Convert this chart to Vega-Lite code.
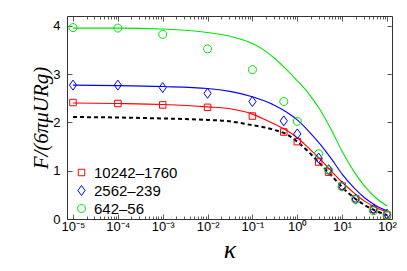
{
  "$schema": "https://vega.github.io/schema/vega-lite/v6.json",
  "width": 325,
  "height": 203,
  "autosize": {"type": "none"},
  "padding": {"left": 67, "top": 16, "right": 15, "bottom": 52},
  "background": "white",
  "config": {
    "view": {"stroke": "#333", "strokeWidth": 1},
    "axis": {"grid": false, "domain": false, "tickColor": "#333", "tickWidth": 0.8, "labelFont": "Liberation Sans", "labelFontSize": 13, "labelColor": "#000", "titleColor": "#000"},
    "legend": {"labelFont": "Liberation Sans", "labelFontSize": 15, "labelColor": "#000"}
  },
  "datasets": {
    "curves": [
      {"k": 1e-5, "F": 3.95, "s": "642–56"}, {"k": 1e-4, "F": 3.95, "s": "642–56"}, {"k": 1e-3, "F": 3.93, "s": "642–56"}, {"k": 0.01, "F": 3.86, "s": "642–56"}, {"k": 0.0316, "F": 3.78, "s": "642–56"}, {"k": 0.1, "F": 3.63, "s": "642–56"}, {"k": 0.178, "F": 3.5, "s": "642–56"}, {"k": 0.316, "F": 3.32, "s": "642–56"}, {"k": 0.562, "F": 3.1, "s": "642–56"}, {"k": 1, "F": 2.86, "s": "642–56"}, {"k": 1.78, "F": 2.6, "s": "642–56"}, {"k": 3.16, "F": 2.27, "s": "642–56"}, {"k": 5.62, "F": 1.86, "s": "642–56"}, {"k": 10, "F": 1.4, "s": "642–56"}, {"k": 17.8, "F": 1.0, "s": "642–56"}, {"k": 31.6, "F": 0.68, "s": "642–56"}, {"k": 56.2, "F": 0.44, "s": "642–56"}, {"k": 100, "F": 0.27, "s": "642–56"},
      {"k": 1e-5, "F": 2.77, "s": "2562–239"}, {"k": 1e-4, "F": 2.76, "s": "2562–239"}, {"k": 1e-3, "F": 2.74, "s": "2562–239"}, {"k": 0.01, "F": 2.7, "s": "2562–239"}, {"k": 0.0316, "F": 2.64, "s": "2562–239"}, {"k": 0.1, "F": 2.53, "s": "2562–239"}, {"k": 0.178, "F": 2.45, "s": "2562–239"}, {"k": 0.316, "F": 2.35, "s": "2562–239"}, {"k": 0.562, "F": 2.22, "s": "2562–239"}, {"k": 1, "F": 2.05, "s": "2562–239"}, {"k": 1.78, "F": 1.82, "s": "2562–239"}, {"k": 3.16, "F": 1.56, "s": "2562–239"}, {"k": 5.62, "F": 1.26, "s": "2562–239"}, {"k": 10, "F": 0.93, "s": "2562–239"}, {"k": 17.8, "F": 0.66, "s": "2562–239"}, {"k": 31.6, "F": 0.44, "s": "2562–239"}, {"k": 56.2, "F": 0.28, "s": "2562–239"}, {"k": 100, "F": 0.17, "s": "2562–239"},
      {"k": 1e-5, "F": 2.4, "s": "10242–1760"}, {"k": 1e-4, "F": 2.39, "s": "10242–1760"}, {"k": 1e-3, "F": 2.37, "s": "10242–1760"}, {"k": 0.01, "F": 2.32, "s": "10242–1760"}, {"k": 0.0316, "F": 2.28, "s": "10242–1760"}, {"k": 0.1, "F": 2.17, "s": "10242–1760"}, {"k": 0.178, "F": 2.07, "s": "10242–1760"}, {"k": 0.316, "F": 1.96, "s": "10242–1760"}, {"k": 0.562, "F": 1.84, "s": "10242–1760"}, {"k": 1, "F": 1.68, "s": "10242–1760"}, {"k": 1.78, "F": 1.47, "s": "10242–1760"}, {"k": 3.16, "F": 1.25, "s": "10242–1760"}, {"k": 5.62, "F": 1.0, "s": "10242–1760"}, {"k": 10, "F": 0.76, "s": "10242–1760"}, {"k": 17.8, "F": 0.55, "s": "10242–1760"}, {"k": 31.6, "F": 0.37, "s": "10242–1760"}, {"k": 56.2, "F": 0.24, "s": "10242–1760"}, {"k": 100, "F": 0.15, "s": "10242–1760"},
      {"k": 1e-5, "F": 2.11, "s": "theory"}, {"k": 1e-4, "F": 2.1, "s": "theory"}, {"k": 1e-3, "F": 2.08, "s": "theory"}, {"k": 0.01, "F": 2.05, "s": "theory"}, {"k": 0.0316, "F": 2.02, "s": "theory"}, {"k": 0.1, "F": 1.94, "s": "theory"}, {"k": 0.178, "F": 1.9, "s": "theory"}, {"k": 0.316, "F": 1.84, "s": "theory"}, {"k": 0.562, "F": 1.76, "s": "theory"}, {"k": 1, "F": 1.6, "s": "theory"}, {"k": 1.78, "F": 1.39, "s": "theory"}, {"k": 3.16, "F": 1.15, "s": "theory"}, {"k": 5.62, "F": 0.91, "s": "theory"}, {"k": 10, "F": 0.66, "s": "theory"}, {"k": 17.8, "F": 0.45, "s": "theory"}, {"k": 31.6, "F": 0.29, "s": "theory"}, {"k": 56.2, "F": 0.17, "s": "theory"}, {"k": 100, "F": 0.08, "s": "theory"}
    ],
    "points": [
      {"k": 1e-5, "F": 2.41, "s": "10242–1760"}, {"k": 1e-4, "F": 2.39, "s": "10242–1760"}, {"k": 1e-3, "F": 2.36, "s": "10242–1760"}, {"k": 0.01, "F": 2.31, "s": "10242–1760"}, {"k": 0.1, "F": 2.13, "s": "10242–1760"}, {"k": 0.5, "F": 1.8, "s": "10242–1760"}, {"k": 1, "F": 1.6, "s": "10242–1760"}, {"k": 3, "F": 1.18, "s": "10242–1760"}, {"k": 5, "F": 0.97, "s": "10242–1760"}, {"k": 10, "F": 0.68, "s": "10242–1760"}, {"k": 20, "F": 0.42, "s": "10242–1760"}, {"k": 50, "F": 0.2, "s": "10242–1760"}, {"k": 100, "F": 0.08, "s": "10242–1760"},
      {"k": 1e-5, "F": 2.77, "s": "2562–239"}, {"k": 1e-4, "F": 2.77, "s": "2562–239"}, {"k": 1e-3, "F": 2.72, "s": "2562–239"}, {"k": 0.01, "F": 2.6, "s": "2562–239"}, {"k": 0.1, "F": 2.43, "s": "2562–239"}, {"k": 0.5, "F": 2.03, "s": "2562–239"}, {"k": 1, "F": 1.76, "s": "2562–239"}, {"k": 3, "F": 1.26, "s": "2562–239"}, {"k": 5, "F": 1.02, "s": "2562–239"}, {"k": 10, "F": 0.68, "s": "2562–239"}, {"k": 20, "F": 0.41, "s": "2562–239"}, {"k": 50, "F": 0.2, "s": "2562–239"}, {"k": 100, "F": 0.1, "s": "2562–239"},
      {"k": 1e-5, "F": 3.96, "s": "642–56"}, {"k": 1e-4, "F": 3.95, "s": "642–56"}, {"k": 1e-3, "F": 3.82, "s": "642–56"}, {"k": 0.01, "F": 3.52, "s": "642–56"}, {"k": 0.1, "F": 3.09, "s": "642–56"}, {"k": 0.5, "F": 2.43, "s": "642–56"}, {"k": 1, "F": 2.02, "s": "642–56"}, {"k": 3, "F": 1.35, "s": "642–56"}, {"k": 5, "F": 1.01, "s": "642–56"}, {"k": 10, "F": 0.67, "s": "642–56"}, {"k": 20, "F": 0.41, "s": "642–56"}, {"k": 50, "F": 0.17, "s": "642–56"}, {"k": 100, "F": 0.08, "s": "642–56"}
    ]
  },
  "layer": [
    {
      "data": {"name": "curves"},
      "transform": [{"filter": "datum.s === 'theory'"}],
      "mark": {"type": "line", "color": "#000", "strokeWidth": 2, "strokeDash": [4, 3], "interpolate": "monotone"},
      "encoding": {
        "x": {"field": "k", "type": "quantitative", "scale": {"type": "log", "domain": [7.35e-6, 129.4], "nice": false},
          "axis": {"orient": "bottom",
            "values": [1e-5, 2e-5, 3e-5, 4e-5, 5e-5, 6e-5, 7e-5, 8e-5, 9e-5, 1e-4, 2e-4, 3e-4, 4e-4, 5e-4, 6e-4, 7e-4, 8e-4, 9e-4, 1e-3, 2e-3, 3e-3, 4e-3, 5e-3, 6e-3, 7e-3, 8e-3, 9e-3, 0.01, 0.02, 0.03, 0.04, 0.05, 0.06, 0.07, 0.08, 0.09, 0.1, 0.2, 0.3, 0.4, 0.5, 0.6, 0.7, 0.8, 0.9, 1, 2, 3, 4, 5, 6, 7, 8, 9, 10, 20, 30, 40, 50, 60, 70, 80, 90, 100],
            "labelExpr": "abs(log(datum.value)/LN10 - round(log(datum.value)/LN10)) < 0.001 ? ['10⁻⁵','10⁻⁴','10⁻³','10⁻²','10⁻¹','10⁰','10¹','10²'][round(log(datum.value)/LN10)+5] : ''",
            "tickSize": {"condition": {"test": "abs(log(datum.value)/LN10 - round(log(datum.value)/LN10)) < 0.001", "value": -5}, "value": -3},
            "labelPadding": 6, "labelOverlap": false, "labelFlush": false,
            "title": "κ", "titleFont": "Liberation Serif", "titleFontStyle": "italic", "titleFontWeight": "normal", "titleFontSize": 26, "titlePadding": 1}},
        "y": {"field": "F", "type": "quantitative", "scale": {"domain": [0, 4.2], "nice": false},
          "axis": {"orient": "left", "values": [0, 1, 2, 3, 4], "tickSize": -5, "labelPadding": 12,
            "title": "F/(6πμURg)", "titleFont": "Liberation Serif", "titleFontStyle": "italic", "titleFontWeight": "normal", "titleFontSize": 21, "titlePadding": 1}}
      }
    },
    {
      "data": {"name": "curves"},
      "transform": [{"filter": "datum.s === '10242–1760'"}],
      "mark": {"type": "line", "color": "#ff0000", "strokeWidth": 1.1, "interpolate": "monotone"},
      "encoding": {
        "x": {"field": "k", "type": "quantitative", "scale": {"type": "log", "domain": [7.35e-6, 129.4], "nice": false},
          "axis": {"orient": "top",
            "values": [1e-5, 2e-5, 3e-5, 4e-5, 5e-5, 6e-5, 7e-5, 8e-5, 9e-5, 1e-4, 2e-4, 3e-4, 4e-4, 5e-4, 6e-4, 7e-4, 8e-4, 9e-4, 1e-3, 2e-3, 3e-3, 4e-3, 5e-3, 6e-3, 7e-3, 8e-3, 9e-3, 0.01, 0.02, 0.03, 0.04, 0.05, 0.06, 0.07, 0.08, 0.09, 0.1, 0.2, 0.3, 0.4, 0.5, 0.6, 0.7, 0.8, 0.9, 1, 2, 3, 4, 5, 6, 7, 8, 9, 10, 20, 30, 40, 50, 60, 70, 80, 90, 100],
            "labels": false, "title": null,
            "tickSize": {"condition": {"test": "abs(log(datum.value)/LN10 - round(log(datum.value)/LN10)) < 0.001", "value": -5}, "value": -3}}},
        "y": {"field": "F", "type": "quantitative", "scale": {"domain": [0, 4.2], "nice": false},
          "axis": {"orient": "right", "values": [0, 1, 2, 3, 4], "tickSize": -5, "labels": false, "title": null}}
      }
    },
    {
      "data": {"name": "curves"},
      "transform": [{"filter": "datum.s === '2562–239'"}],
      "mark": {"type": "line", "color": "#0000ff", "strokeWidth": 1.1, "interpolate": "monotone"},
      "encoding": {
        "x": {"field": "k", "type": "quantitative", "scale": {"type": "log", "domain": [7.35e-6, 129.4], "nice": false}, "axis": null},
        "y": {"field": "F", "type": "quantitative", "scale": {"domain": [0, 4.2], "nice": false}, "axis": null}
      }
    },
    {
      "data": {"name": "curves"},
      "transform": [{"filter": "datum.s === '642–56'"}],
      "mark": {"type": "line", "color": "#00e600", "strokeWidth": 1.1, "interpolate": "monotone"},
      "encoding": {
        "x": {"field": "k", "type": "quantitative", "scale": {"type": "log", "domain": [7.35e-6, 129.4], "nice": false}, "axis": null},
        "y": {"field": "F", "type": "quantitative", "scale": {"domain": [0, 4.2], "nice": false}, "axis": null}
      }
    },
    {
      "data": {"name": "points"},
      "mark": {"type": "point", "filled": false, "strokeWidth": 1, "size": 100, "opacity": 1},
      "encoding": {
        "x": {"field": "k", "type": "quantitative", "scale": {"type": "log", "domain": [7.35e-6, 129.4], "nice": false}, "axis": null},
        "y": {"field": "F", "type": "quantitative", "scale": {"domain": [0, 4.2], "nice": false}, "axis": null},
        "color": {"field": "s", "type": "nominal",
          "scale": {"domain": ["10242–1760", "2562–239", "642–56"], "range": ["#ff0000", "#0000ff", "#00e600"]},
          "legend": {"title": null, "orient": "none", "legendX": 7, "legendY": 149, "padding": 0, "symbolSize": 100, "symbolStrokeWidth": 1, "rowPadding": 2, "labelOffset": 5, "labelFontSize": 15}},
        "shape": {"field": "s", "type": "nominal",
          "scale": {"domain": ["10242–1760", "2562–239", "642–56"], "range": ["M-0.65,-0.65H0.65V0.65H-0.65Z", "M0,-1L0.72,0L0,1L-0.72,0Z", "M0.8,0A0.8,0.8,0,1,1,-0.8,0A0.8,0.8,0,1,1,0.8,0Z"]},
          "legend": {"title": null, "orient": "none", "legendX": 7, "legendY": 149, "padding": 0, "symbolSize": 100, "symbolStrokeWidth": 1, "rowPadding": 2, "labelOffset": 5, "labelFontSize": 15}}
      }
    }
  ],
  "resolve": {"axis": {"x": "independent", "y": "independent"}}
}
